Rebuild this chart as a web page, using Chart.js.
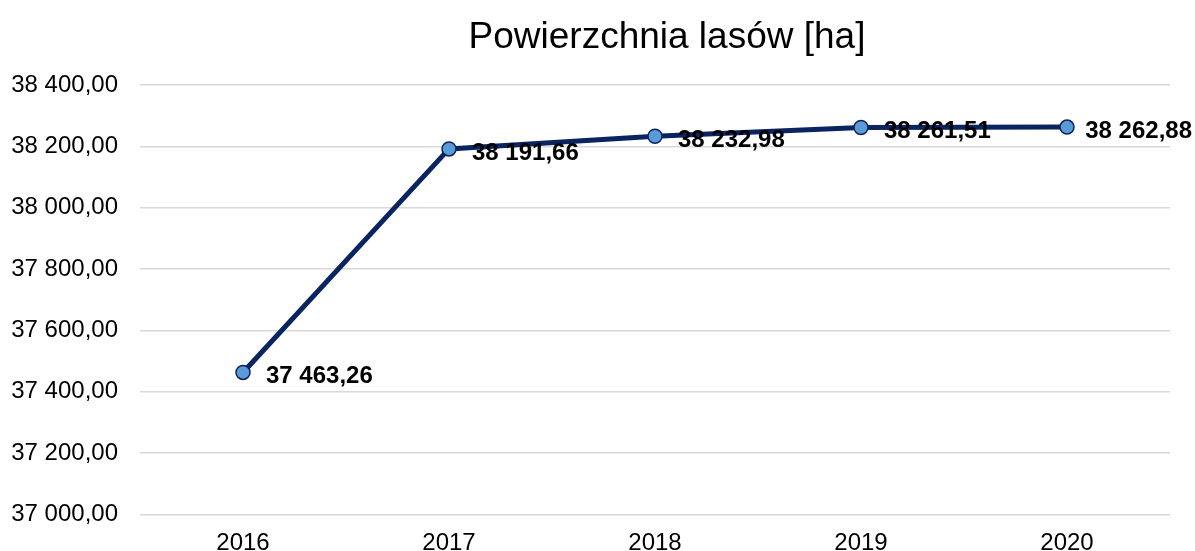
<!DOCTYPE html>
<html>
<head>
<meta charset="utf-8">
<script src="https://cdn.jsdelivr.net/npm/chart.js@4/dist/chart.umd.min.js"></script>
<style>
  body { margin: 0; background: #fff; }
  #wrap { width: 1195px; height: 551px; }
</style>
</head>
<body>
<div id="wrap"><canvas id="myChart" width="1195" height="551"></canvas></div>
<script>
// data
const years = ['2016', '2017', '2018', '2019', '2020'];
const forestArea = [37463.26, 38191.66, 38232.98, 38261.51, 38262.88];
const chartTitle = 'Powierzchnia lasów [ha]';
const yMin = 37000;
const yMax = 38400;
const yStep = 200;

const fmt = function(v) {
    let parts = v.toFixed(2).split('.');
    let intPart = parts[0].replace(/\B(?=(\d{3})+(?!\d))/g, ' ');
    return intPart + ',' + parts[1];
}

// title over the plot area + bold labels right of each point
const labelsPlugin = {
    id: 'labels',
    afterDraw(chart) {
        const ctx = chart.ctx;
        const area = chart.chartArea;
        ctx.save();
        ctx.fillStyle = '#000';
        ctx.font = '37px "Liberation Sans", Arial, sans-serif';
        ctx.textAlign = 'center';
        ctx.textBaseline = 'middle';
        ctx.fillText(chartTitle, (area.left + area.right) / 2 + 12, 38);

        ctx.font = 'bold 24px "Liberation Sans", Arial, sans-serif';
        ctx.textAlign = 'left';
        const meta = chart.getDatasetMeta(0);
        meta.data.forEach(function(pt, i) {
            let txt = fmt(forestArea[i]);
            let w = ctx.measureText(txt).width;
            // keep the last label inside the canvas
            let x = Math.min(pt.x + 23, chart.width - w - 3);
            ctx.fillText(txt, x, pt.y + 4);
        });
        ctx.restore();
    }
};

const ctx = document.getElementById('myChart').getContext('2d');
const chart = new Chart(ctx, {
    type: 'line',
    data: {
        labels: years,
        datasets: [{
            label: chartTitle,
            data: forestArea,
            borderColor: '#0a2462',
            borderWidth: 5,
            backgroundColor: '#5b9bd5',
            pointBackgroundColor: '#5b9bd5',
            pointBorderColor: '#0a2462',
            pointBorderWidth: 1.5,
            pointRadius: 7,
            fill: false,
            tension: 0
        }]
    },
    options: {
        responsive: false,
        animation: false,
        layout: { padding: { top: 85, right: 25, bottom: 0, left: 0 } },
        plugins: {
            legend: { display: false },
            title: { display: false },
            tooltip: { enabled: false }
        },
        scales: {
            x: {
                offset: true,
                grid: { display: false, drawTicks: false },
                border: { display: false },
                ticks: {
                    color: '#000',
                    font: { family: '"Liberation Sans", Arial, sans-serif', size: 24 },
                    padding: 14
                },
                afterFit: function(scale) { scale.height = 36; }
            },
            y: {
                min: yMin,
                max: yMax,
                grid: { color: '#d9d9d9', lineWidth: 1.5, drawTicks: false },
                border: { display: false },
                ticks: {
                    stepSize: yStep,
                    color: '#000',
                    font: { family: '"Liberation Sans", Arial, sans-serif', size: 24 },
                    padding: 22,
                    callback: function(v) { return fmt(v); }
                },
                afterFit: function(scale) { scale.width = 140; }
            }
        }
    },
    plugins: [labelsPlugin]
});
</script>
</body>
</html>
